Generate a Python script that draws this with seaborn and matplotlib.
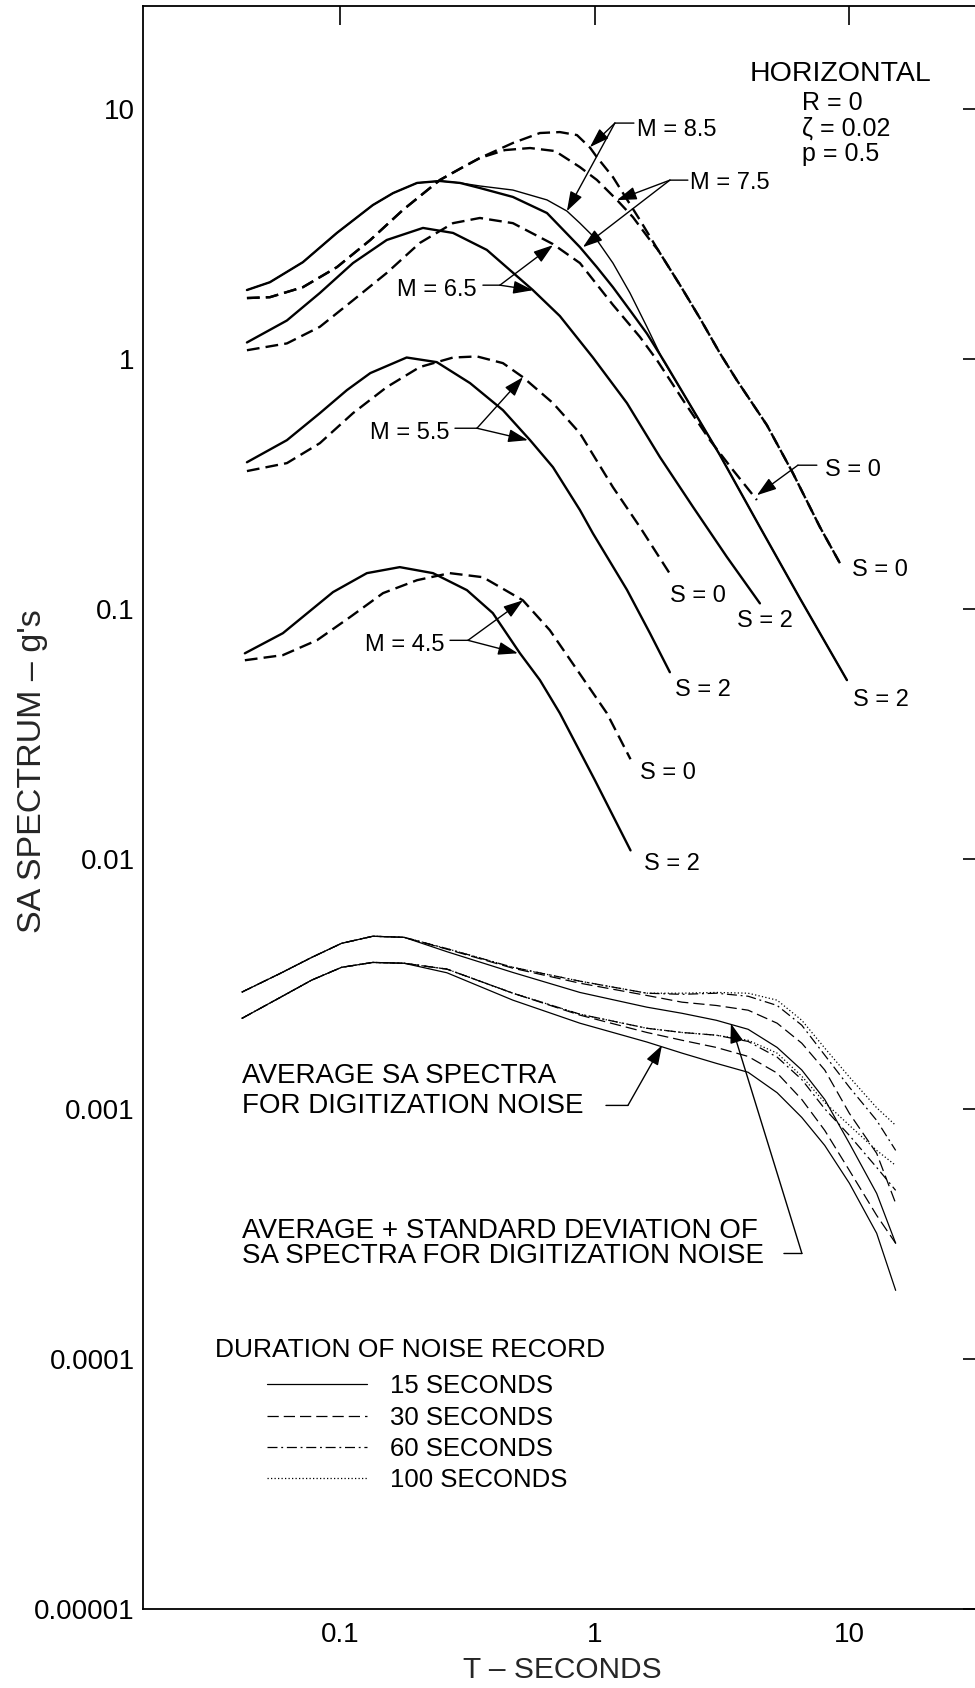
import matplotlib
matplotlib.use("Agg")
import matplotlib.pyplot as plt
from matplotlib.lines import Line2D
from matplotlib.ticker import NullLocator
import seaborn as sns

# ---------------- data (T in seconds, SA in g) ----------------
# Earthquake spectra, S=2 solid / S=0 dashed
T_M45_S2 = [0.0421, 0.0594, 0.0935, 0.127, 0.171, 0.231, 0.314, 0.397, 0.507, 0.608, 0.728, 1.0, 1.38]
SA_M45_S2 = [0.0663, 0.0798, 0.1165, 0.1387, 0.1466, 0.1387, 0.1186, 0.096, 0.0664, 0.0518, 0.0382, 0.0206, 0.0108]
T_M45_S0 = [0.0421, 0.0594, 0.0809, 0.109, 0.147, 0.200, 0.269, 0.363, 0.521, 0.665, 1.114, 1.38]
SA_M45_S0 = [0.0622, 0.0652, 0.0748, 0.0925, 0.1154, 0.130, 0.1387, 0.1336, 0.108, 0.082, 0.0382, 0.025]

T_M55_S2 = [0.0429, 0.0616, 0.083, 0.106, 0.131, 0.182, 0.239, 0.323, 0.435, 0.556, 0.684, 0.873, 0.982, 1.336, 1.645, 1.97]
SA_M55_S2 = [0.385, 0.472, 0.605, 0.748, 0.875, 1.01, 0.968, 0.798, 0.622, 0.472, 0.368, 0.248, 0.200, 0.119, 0.0798, 0.0557]
T_M55_S0 = [0.0429, 0.0616, 0.083, 0.112, 0.152, 0.205, 0.277, 0.344, 0.435, 0.521, 0.684, 0.873, 1.177, 1.503, 2.01]
SA_M55_S0 = [0.355, 0.382, 0.459, 0.605, 0.769, 0.925, 1.01, 1.02, 0.959, 0.843, 0.664, 0.503, 0.306, 0.212, 0.1336]

T_M65_S2 = [0.0429, 0.0616, 0.083, 0.112, 0.152, 0.211, 0.277, 0.376, 0.570, 0.728, 0.982, 1.336, 1.80, 2.43, 3.30, 4.45]
SA_M65_S2 = [1.16, 1.42, 1.83, 2.41, 2.98, 3.33, 3.18, 2.72, 1.88, 1.48, 1.01, 0.664, 0.404, 0.255, 0.161, 0.105]
T_M65_S0 = [0.0429, 0.0616, 0.083, 0.112, 0.152, 0.205, 0.277, 0.353, 0.476, 0.684, 0.873, 1.177, 1.503, 1.753, 2.22, 2.83, 3.49, 4.33]
SA_M65_S0 = [1.08, 1.15, 1.34, 1.71, 2.20, 2.90, 3.48, 3.65, 3.48, 2.87, 2.41, 1.64, 1.22, 0.986, 0.682, 0.472, 0.358, 0.272]

T_M75_S2 = [0.0429, 0.0528, 0.0712, 0.0968, 0.134, 0.161, 0.200, 0.246, 0.295, 0.353, 0.476, 0.648, 0.873, 1.018,
            1.177, 1.373, 1.60, 1.88, 2.22, 3.10, 4.45, 6.39, 9.78]
SA_M75_S2 = [1.88, 2.02, 2.43, 3.18, 4.11, 4.59, 5.04, 5.13, 5.04, 4.81, 4.43, 3.82, 2.79, 2.32,
             1.93, 1.56, 1.26, 0.968, 0.728, 0.411, 0.212, 0.110, 0.0518]
T_M85_S2 = [0.0429, 0.0528, 0.0712, 0.0968, 0.134, 0.161, 0.200, 0.246, 0.295, 0.353, 0.476, 0.648, 0.776, 0.873,
            1.018, 1.177, 1.373, 1.60, 1.85, 2.22, 3.10, 4.45, 6.39, 9.78]
SA_M85_S2 = [1.88, 2.02, 2.43, 3.18, 4.11, 4.59, 5.04, 5.13, 5.04, 4.90, 4.72, 4.31, 3.89, 3.48,
             2.98, 2.41, 1.83, 1.34, 0.986, 0.728, 0.411, 0.212, 0.110, 0.0518]
T_M75_S0 = [0.0429, 0.0528, 0.0712, 0.0968, 0.131, 0.176, 0.246, 0.303, 0.353, 0.443, 0.556, 0.697, 0.873, 1.018,
            1.220, 1.41, 1.645, 1.769, 2.158, 2.586, 3.10, 3.61, 4.74, 6.00, 7.66, 9.18]
SA_M75_S0 = [1.746, 1.76, 1.93, 2.32, 2.98, 3.93, 5.18, 5.83, 6.34, 6.82, 6.95, 6.76, 5.83, 5.18,
             4.31, 3.68, 2.98, 2.72, 1.97, 1.45, 1.05, 0.82, 0.542, 0.348, 0.212, 0.152]
T_M85_S0 = [0.0429, 0.0528, 0.0712, 0.0968, 0.131, 0.176, 0.246, 0.303, 0.353, 0.476, 0.608, 0.728, 0.850, 0.956,
            1.018, 1.177, 1.289, 1.503, 1.769, 2.158, 2.586, 3.10, 3.61, 4.74, 6.00, 7.66, 9.18]
SA_M85_S0 = [1.746, 1.76, 1.93, 2.32, 2.98, 3.93, 5.18, 5.83, 6.34, 7.28, 7.98, 8.05, 7.83, 6.98,
             6.39, 5.32, 4.59, 3.58, 2.72, 1.97, 1.45, 1.05, 0.82, 0.542, 0.348, 0.212, 0.152]

# Digitization noise spectra (average and average + standard deviation)
T_NOISE = [0.041, 0.058, 0.077, 0.101, 0.134, 0.178, 0.262, 0.476, 0.873, 1.60, 2.20, 3.0, 4.0, 5.2, 6.5, 8.0, 10.0, 12.8, 15.2]
SD_15 = [0.00293, 0.00348, 0.00403, 0.00459, 0.00490, 0.00485, 0.00425, 0.00351, 0.00292, 0.00255, 0.00241, 0.00226,
         0.00208, 0.00176, 0.00143, 0.00109, 0.000728, 0.000459, 0.000290]
SD_30 = [0.00293, 0.00348, 0.00403, 0.00459, 0.00490, 0.00485, 0.00435, 0.00365, 0.00318, 0.00284, 0.00267, 0.00259,
         0.00248, 0.00220, 0.00183, 0.00143, 0.000959, 0.000664, 0.000419]
SD_60 = [0.00293, 0.00348, 0.00403, 0.00459, 0.00490, 0.00485, 0.00437, 0.00368, 0.00324, 0.00290, 0.00287, 0.00290,
         0.00282, 0.00259, 0.00216, 0.00164, 0.00122, 0.000899, 0.000682]
SD_100 = [0.00293, 0.00348, 0.00403, 0.00459, 0.00490, 0.00485, 0.00437, 0.00368, 0.00324, 0.00290, 0.00290, 0.00292,
          0.00290, 0.00272, 0.00226, 0.00175, 0.00134, 0.00101, 0.000859]
AVG_15 = [0.00230, 0.00279, 0.00327, 0.00368, 0.00385, 0.00382, 0.00350, 0.00272, 0.00220, 0.00185, 0.00167, 0.00152,
          0.00140, 0.00116, 0.000924, 0.000714, 0.000504, 0.000318, 0.000188]
AVG_30 = [0.00230, 0.00279, 0.00327, 0.00368, 0.00385, 0.00382, 0.00362, 0.00290, 0.00237, 0.00202, 0.00188, 0.00176,
          0.00162, 0.00139, 0.00109, 0.000820, 0.000567, 0.000375, 0.000290]
AVG_60 = [0.00230, 0.00279, 0.00327, 0.00368, 0.00385, 0.00382, 0.00362, 0.00290, 0.00239, 0.00210, 0.00202, 0.00197,
          0.00186, 0.00161, 0.00131, 0.00100, 0.000783, 0.000583, 0.000472]
AVG_100 = [0.00230, 0.00279, 0.00327, 0.00368, 0.00385, 0.00382, 0.00362, 0.00290, 0.00239, 0.00210, 0.00202, 0.00197,
           0.00188, 0.00167, 0.00135, 0.00106, 0.000859, 0.000682, 0.000594]

DURATION_LABELS = ["15 SECONDS", "30 SECONDS", "60 SECONDS", "100 SECONDS"]
X_TICKS = [0.1, 1, 10]
X_TICK_LABELS = ["0.1", "1", "10"]
Y_TICKS = [1e-5, 1e-4, 1e-3, 1e-2, 1e-1, 1, 10]
Y_TICK_LABELS = ["0.00001", "0.0001", "0.001", "0.01", "0.1", "1", "10"]

# ---------------- styling ----------------
sns.set_theme(style="white")
plt.rcParams['font.family'] = ['Liberation Sans', 'DejaVu Sans']
plt.rcParams['text.color'] = 'black'

fig = plt.figure(figsize=(9.75, 16.88), dpi=100)
ax = fig.add_axes([0.14667, 0.04680, 0.86051, 0.94965])
ax.set_xscale('log')
ax.set_yscale('log')

K = 'black'
LW = 1.7
DASH = (0, (5.4, 2.6))
NLW = 0.9
NSTYLES = ['-', (0, (9, 4)), (0, (8, 3, 1.5, 3)), (0, (1, 1.8))]

quake = [
    (T_M45_S2, SA_M45_S2, '-', LW), (T_M45_S0, SA_M45_S0, DASH, LW),
    (T_M55_S2, SA_M55_S2, '-', LW), (T_M55_S0, SA_M55_S0, DASH, LW),
    (T_M65_S2, SA_M65_S2, '-', LW), (T_M65_S0, SA_M65_S0, DASH, LW),
    (T_M75_S2, SA_M75_S2, '-', LW), (T_M75_S0, SA_M75_S0, DASH, LW),
    (T_M85_S2, SA_M85_S2, '-', 1.0), (T_M85_S0, SA_M85_S0, DASH, LW),
]
for t, s, ls, lw in quake:
    sns.lineplot(x=t, y=s, ax=ax, color=K, linestyle=ls, linewidth=lw,
                 estimator=None, sort=False, legend=False)

noise_sets = [(SD_15, AVG_15), (SD_30, AVG_30), (SD_60, AVG_60), (SD_100, AVG_100)]
for (sd, avg), ls in zip(noise_sets, NSTYLES):
    for s in (sd, avg):
        sns.lineplot(x=T_NOISE, y=s, ax=ax, color=K, linestyle=ls, linewidth=NLW,
                     estimator=None, sort=False, legend=False)

ax.set_xlim(0.01675, 33.2)
ax.set_ylim(1e-5, 25.7)

ax.set_xticks(X_TICKS)
ax.set_xticklabels(X_TICK_LABELS)
ax.set_yticks(Y_TICKS)
ax.set_yticklabels(Y_TICK_LABELS)
ax.xaxis.set_minor_locator(NullLocator())
ax.yaxis.set_minor_locator(NullLocator())
ax.tick_params(axis='both', which='major', direction='in', length=13.5, width=1.2,
               top=True, right=True, colors=K, labelsize=20)
ax.tick_params(axis='x', pad=9)
ax.tick_params(axis='y', pad=6)
for sp in ax.spines.values():
    sp.set_visible(True)
    sp.set_color(K)
    sp.set_linewidth(1.3)
ax.grid(False)

ax.set_ylabel("SA SPECTRUM – g's", fontsize=24.5)
ax.yaxis.set_label_coords(-0.1323, 0.5226)
ax.yaxis.label.set_va('center')
ax.set_xlabel("T – SECONDS", fontsize=21.5)
ax.xaxis.set_label_coords(0.4994, -0.0381)
ax.xaxis.label.set_va('center')

# ---------------- annotations ----------------
AP = dict(arrowstyle='-|>,head_length=0.6,head_width=0.2', color=K, lw=1.0,
          shrinkA=0, shrinkB=0, mutation_scale=20)
SP = dict(arrowstyle='-', color=K, lw=1.0, shrinkA=0, shrinkB=0)


def leader(junction, stub_end, tips):
    ax.annotate('', xy=stub_end, xytext=junction, arrowprops=SP)
    for tip in tips:
        ax.annotate('', xy=tip, xytext=junction, arrowprops=AP)


FS_M = 17
ax.text(1.462, 7.79, "M = 8.5", fontsize=FS_M, ha='left', va='baseline')
leader((1.198, 8.744), (1.423, 8.744), [(0.9558, 7.009), (0.776, 3.887)])
ax.text(2.362, 4.782, "M = 7.5", fontsize=FS_M, ha='left', va='baseline')
leader((1.971, 5.171), (2.319, 5.171), [(1.220, 4.301), (0.897, 2.790)])
ax.text(0.3439, 1.785, "M = 6.5", fontsize=FS_M, ha='right', va='baseline')
leader((0.4233, 1.966), (0.3629, 1.966), [(0.684, 2.842), (0.5706, 1.877)])
ax.text(0.2694, 0.478, "M = 5.5", fontsize=FS_M, ha='right', va='baseline')
leader((0.3439, 0.5266), (0.2818, 0.5266), [(0.5214, 0.8425), (0.5453, 0.4717)])
ax.text(0.2574, 0.0679, "M = 4.5", fontsize=FS_M, ha='right', va='baseline')
leader((0.3170, 0.07472), (0.2694, 0.07472), [(0.5214, 0.1080), (0.498, 0.0663)])

S_LABELS = [(10.23, 0.1354, "S = 0"), (10.32, 0.04089, "S = 2"), (8.01, 0.3401, "S = 0"),
            (3.61, 0.08466, "S = 2"), (1.971, 0.1066, "S = 0"), (2.062, 0.04483, "S = 2"),
            (1.502, 0.02088, "S = 0"), (1.557, 0.009027, "S = 2")]
for x, y, s in S_LABELS:
    ax.text(x, y, s, fontsize=FS_M, ha='left', va='baseline')
leader((6.275, 0.3747), (7.45, 0.3747), [(4.33, 0.2842)])

ax.text(4.06, 12.87, "HORIZONTAL", fontsize=20.5, ha='left', va='baseline')
ax.text(6.508, 9.854, "R = 0", fontsize=18, ha='left', va='baseline')
ax.text(6.508, 7.756, "ζ = 0.02", fontsize=18, ha='left', va='baseline')
ax.text(6.508, 6.161, "p = 0.5", fontsize=18, ha='left', va='baseline')

FS_N = 20
ax.text(0.0410, 0.001264, "AVERAGE SA SPECTRA", fontsize=FS_N, ha='left', va='baseline')
ax.text(0.0410, 0.000959, "FOR DIGITIZATION NOISE", fontsize=FS_N, ha='left', va='baseline')
leader((1.348, 0.001032), (1.105, 0.001032), [(1.834, 0.001794)])
ax.text(0.0410, 0.0003058, "AVERAGE + STANDARD DEVIATION OF", fontsize=FS_N, ha='left', va='baseline')
ax.text(0.0410, 0.0002408, "SA SPECTRA FOR DIGITIZATION NOISE", fontsize=FS_N, ha='left', va='baseline')
leader((6.508, 0.000264), (5.53, 0.000264), [(3.422, 0.002196)])

# legend for record duration
ax.text(0.03213, 1.0223e-4, "DURATION OF NOISE RECORD", fontsize=19, ha='left', va='baseline')
handles = [Line2D([0], [0], color=K, lw=NLW, linestyle=ls) for ls in NSTYLES]
leg = ax.legend(handles, DURATION_LABELS, loc='upper left', bbox_to_anchor=(0.2738, 0.1858),
                bbox_transform=fig.transFigure, frameon=False, fontsize=18.5, handlelength=3.9,
                handletextpad=0.9, labelspacing=0.28, borderpad=0, borderaxespad=0)

fig.savefig('out.png', dpi=100)
